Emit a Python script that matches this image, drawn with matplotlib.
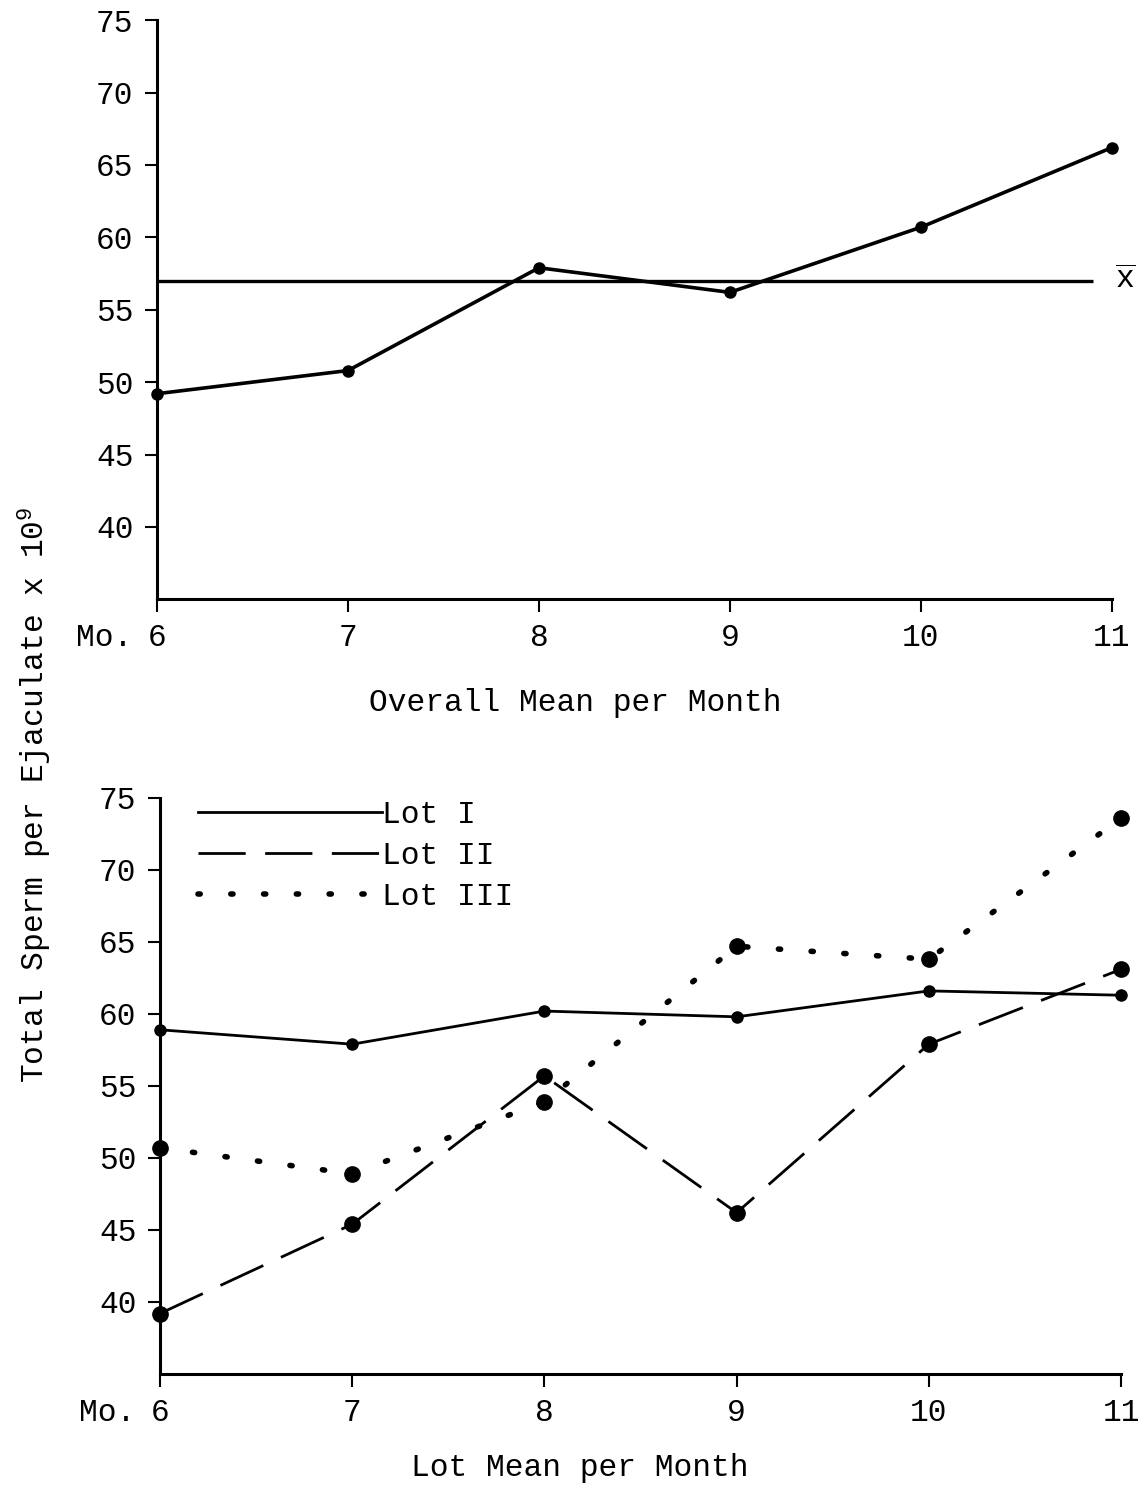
import numpy as np
import matplotlib.pyplot as plt

plt.rcParams['font.family'] = ['Liberation Mono', 'DejaVu Sans Mono']
plt.rcParams['mathtext.default'] = 'regular'

months = [6, 7, 8, 9, 10, 11]
month_labels = ['6', '7', '8', '9', '10', '11']
y_ticks = [40, 45, 50, 55, 60, 65, 70, 75]

# overall mean per month
overall = [49.2, 50.8, 57.9, 56.2, 60.7, 66.2]
overall_mean = 57.0

# lot means per month
lot1 = [58.9, 57.9, 60.2, 59.8, 61.6, 61.3]
lot2 = [39.2, 45.4, 55.7, 46.2, 57.9, 63.1]
lot3 = [50.7, 48.9, 53.9, 64.7, 63.8, 73.6]

FS = 22.5

fig = plt.figure(figsize=(11.38, 14.87), dpi=100)
ax1 = fig.add_axes([0.138, 0.597, 0.839, 0.3894])
ax2 = fig.add_axes([0.1406, 0.076, 0.8445, 0.3874])

for ax in (ax1, ax2):
    ax.set_xlim(6, 11)
    ax.set_ylim(35, 75)
    ax.set_xticks(months)
    ax.set_xticklabels(month_labels)
    ax.set_yticks(y_ticks)
    for s in ('top', 'right'):
        ax.spines[s].set_visible(False)
    for s in ('left', 'bottom'):
        ax.spines[s].set_linewidth(2.2)
    ax.tick_params(axis='both', direction='out', length=9, width=1.5,
                   labelsize=FS, pad=8)
    ax.annotate('Mo.', xy=(6, 0), xycoords=ax.get_xaxis_transform(),
                xytext=(-18, -17), textcoords='offset points',
                ha='right', va='top', fontsize=FS)

# top: overall mean
ax1.plot(months, overall, color='black', lw=2.6, marker='o', ms=8,
         clip_on=False)
ax1.hlines(overall_mean, 6, 10.9, color='black', lw=2.4)
ax1.annotate(r'$\overline{x}$', xy=(11, overall_mean), xytext=(2, 0),
             textcoords='offset points', ha='left', va='center',
             fontsize=FS)
fig.text(575 / 1138, 1 - 703 / 1487, 'Overall Mean per Month',
         ha='center', va='center', fontsize=FS)

# bottom: lot means
ax2.plot(months, lot1, color='black', lw=2.0, marker='o', ms=8,
         clip_on=False, label='Lot I')
ax2.plot(months, lot2, color='black', lw=2.0, marker='o', ms=11,
         linestyle=(0, (17, 7)), clip_on=False, label='Lot II')
ax2.plot(months, lot3, color='black', lw=4, marker='o', ms=11,
         linestyle=(0, (0.4, 5.5)), dash_capstyle='round',
         clip_on=False, label='Lot III')

leg = ax2.legend(loc='upper left', bbox_to_anchor=(0.01, 1.045),
                 frameon=False, fontsize=FS, handlelength=5.9,
                 handletextpad=0.0, labelspacing=0.35, markerscale=0)
fig.text(580 / 1138, 1 - 1468 / 1487, 'Lot Mean per Month',
         ha='center', va='center', fontsize=FS)

fig.text(35 / 1138, 1 - 795 / 1487, 'Total Sperm per Ejaculate x 10$^{9}$',
         rotation=90, ha='center', va='center', fontsize=FS)

fig.savefig('out.png', dpi=100)
